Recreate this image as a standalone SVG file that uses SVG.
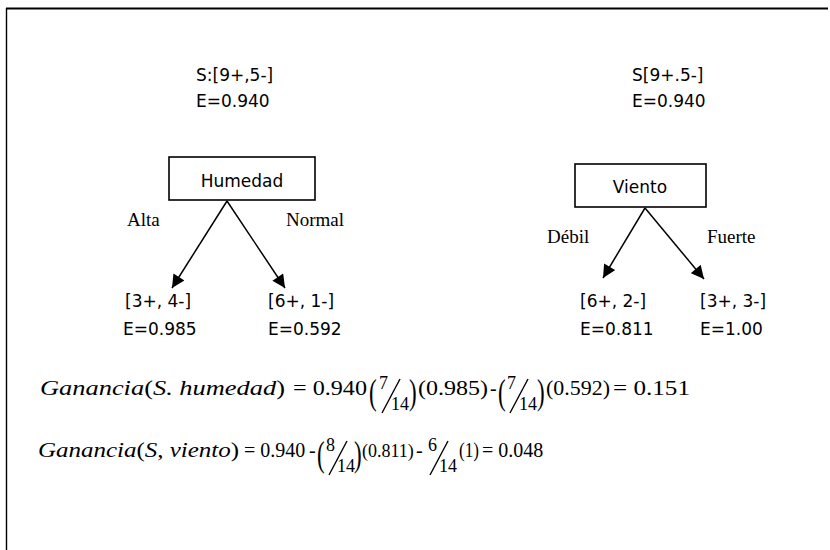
<svg xmlns="http://www.w3.org/2000/svg" width="830" height="550" viewBox="0 0 830 550">
  <defs>
    <marker id="arrow" viewBox="0 0 10 10" refX="10" refY="5" markerWidth="14" markerHeight="13" markerUnits="userSpaceOnUse" orient="auto">
      <path d="M0,0 L10,5 L0,10 z" fill="#000"/>
    </marker>
    <style>
      .sans { font-family: "DejaVu Sans", "Liberation Sans", sans-serif; font-size: 17px; fill: #000; }
      .serif { font-family: "Liberation Serif", "Times New Roman", serif; font-size: 19px; fill: #000; }
      .math { font-family: "Liberation Serif", "Times New Roman", serif; font-size: 20px; fill: #000; }
      .it { font-style: italic; }
      .frac { font-family: "Liberation Serif", "Times New Roman", serif; font-size: 18px; fill: #000; }
      .paren { font-family: "Liberation Serif", "Times New Roman", serif; font-size: 23px; fill: #000; }
      .box { fill: #fff; stroke: #000; stroke-width: 1.6; }
      .edge { stroke: #000; stroke-width: 1.5; fill: none; marker-end: url(#arrow); }
      .rule { stroke: #000; fill: none; }
      .slash { stroke: #000; stroke-width: 1.4; }
    </style>
  </defs>

  <rect width="830" height="550" fill="#fff"/>

  <!-- frame: top and left rules -->
  <line class="rule" x1="6" y1="8.5" x2="828" y2="8.5" stroke-width="2"/>
  <line class="rule" x1="6.5" y1="8" x2="6.5" y2="550" stroke-width="1.4"/>

  <!-- root stats -->
  <g id="root-humedad">
    <text class="sans" x="196" y="81">S:[9+,5-]</text>
    <text class="sans" x="196" y="107">E=0.940</text>
  </g>
  <g id="root-viento">
    <text class="sans" x="632" y="81">S[9+.5-]</text>
    <text class="sans" x="632" y="107">E=0.940</text>
  </g>

  <!-- attribute nodes -->
  <g id="humedad">
    <rect class="box" x="169" y="157" width="146" height="43"/>
    <text class="sans" x="242" y="187" text-anchor="middle">Humedad</text>
  </g>
  <g id="viento">
    <rect class="box" x="575" y="164" width="131" height="43"/>
    <text class="sans" x="640" y="193" text-anchor="middle">Viento</text>
  </g>

  <!-- branches -->
  <g id="connectors">
    <line class="edge" x1="227" y1="201" x2="172" y2="288"/>
    <line class="edge" x1="227" y1="201" x2="285" y2="288"/>
    <line class="edge" x1="645" y1="208" x2="603" y2="278"/>
    <line class="edge" x1="645" y1="208" x2="704" y2="279"/>
    <text class="serif" x="127" y="226">Alta</text>
    <text class="serif" x="286" y="226">Normal</text>
    <text class="serif" x="547" y="243">Débil</text>
    <text class="serif" x="707" y="243">Fuerte</text>
  </g>

  <!-- leaves -->
  <g id="leaf-alta">
    <text class="sans" x="125" y="307">[3+, 4-]</text>
    <text class="sans" x="123" y="335">E=0.985</text>
  </g>
  <g id="leaf-normal">
    <text class="sans" x="268" y="307">[6+, 1-]</text>
    <text class="sans" x="268" y="335">E=0.592</text>
  </g>
  <g id="leaf-debil">
    <text class="sans" x="580" y="307">[6+, 2-]</text>
    <text class="sans" x="580" y="335">E=0.811</text>
  </g>
  <g id="leaf-fuerte">
    <text class="sans" x="700" y="307">[3+, 3-]</text>
    <text class="sans" x="700" y="335">E=1.00</text>
  </g>

  <!-- gain for humedad -->
  <g id="gain-humedad">
    <text class="math" x="40" y="395" textLength="245" lengthAdjust="spacingAndGlyphs"><tspan class="it">Ganancia</tspan>(<tspan class="it">S. humedad</tspan>)</text>
    <text class="math" x="293" y="395" textLength="74" lengthAdjust="spacingAndGlyphs">= 0.940</text>
    <text class="paren" transform="translate(369,404) scale(1,1.6)">(</text>
    <text class="frac" x="379" y="389">7</text>
    <line class="slash" x1="382" y1="413" x2="400" y2="379"/>
    <text class="frac" x="391" y="410">14</text>
    <text class="paren" transform="translate(409,404) scale(1,1.6)">)</text>
    <text class="math" x="418" y="395" textLength="70" lengthAdjust="spacingAndGlyphs">(0.985)</text>
    <text class="math" x="490" y="395">-</text>
    <text class="paren" transform="translate(498,404) scale(1,1.6)">(</text>
    <text class="frac" x="507" y="389">7</text>
    <line class="slash" x1="510" y1="413" x2="528" y2="379"/>
    <text class="frac" x="519" y="410">14</text>
    <text class="paren" transform="translate(537,404) scale(1,1.6)">)</text>
    <text class="math" x="546" y="395" textLength="64" lengthAdjust="spacingAndGlyphs">(0.592)</text>
    <text class="math" x="613" y="395" textLength="77" lengthAdjust="spacingAndGlyphs">= 0.151</text>
  </g>

  <!-- gain for viento -->
  <g id="gain-viento">
    <text class="math" x="38" y="457" textLength="201" lengthAdjust="spacingAndGlyphs"><tspan class="it">Ganancia</tspan>(<tspan class="it">S</tspan>, <tspan class="it">viento</tspan>)</text>
    <text class="math" x="244" y="457">= 0.940</text>
    <text class="math" x="309" y="457">-</text>
    <text class="paren" transform="translate(317,466) scale(1,1.6)">(</text>
    <text class="frac" x="326" y="451">8</text>
    <line class="slash" x1="329" y1="475" x2="347" y2="441"/>
    <text class="frac" x="337" y="472">14</text>
    <text class="paren" transform="translate(354,466) scale(1,1.6)">)</text>
    <text class="frac" x="362" y="457">(0.811)</text>
    <text class="math" x="416" y="457">-</text>
    <text class="frac" x="428" y="451">6</text>
    <line class="slash" x1="430" y1="475" x2="448" y2="441"/>
    <text class="frac" x="439" y="472">14</text>
    <text class="math" x="459" y="457" textLength="20" lengthAdjust="spacingAndGlyphs">(1)</text>
    <text class="math" x="482" y="457">= 0.048</text>
  </g>
</svg>
